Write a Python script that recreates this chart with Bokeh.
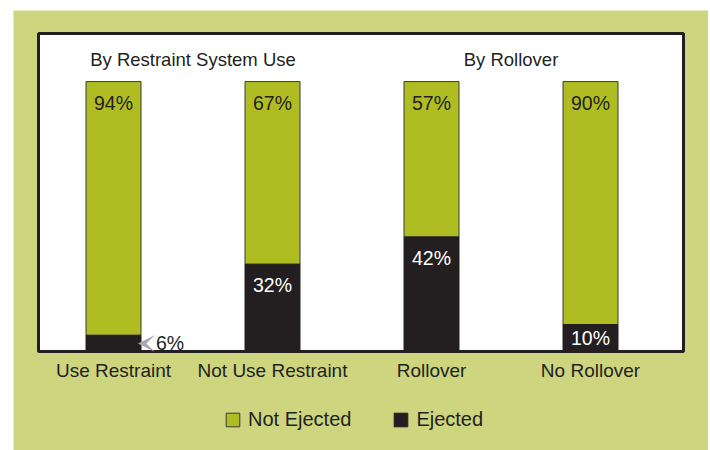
from bokeh.plotting import figure
from bokeh.models import (ColumnDataSource, Range1d, Legend, LegendItem,
                          Arrow, VeeHead)
from bokeh.core.properties import value
from bokeh.embed import file_html
from bokeh.resources import INLINE

# ---------------- data ----------------
categories = ["Use Restraint", "Not Use Restraint", "Rollover", "No Rollover"]
not_ejected = [94, 67, 57, 90]
ejected = [6, 32, 42, 10]
group_titles = ["By Restraint System Use", "By Rollover"]
group_members = [[0, 1], [2, 3]]
series_names = ["Not Ejected", "Ejected"]

# ---------------- style / geometry (pixels) ----------------
FONT = "Liberation Sans"
BG = "#cdd57f"
GREEN = "#b0bd22"
DARK = "#231f20"
GREY = "#a7a9ac"

W, H = 695, 440                 # whole green panel
BOX_L, BOX_T = 25, 23           # white chart box inside the panel
BOX_W, BOX_H = 645, 318
Y_MAX = 117.8                   # percent at top of the white box
PPU = BOX_H / Y_MAX             # px per percent
X_PPU = 159.0                   # px per category step
X0 = -75.0 / X_PPU              # x value at the box's left edge
BAR_W = 55.0 / X_PPU

x_start = X0 - BOX_L / X_PPU
x_end = x_start + W / X_PPU
y_end = Y_MAX + BOX_T / PPU
y_start = y_end - H / PPU

xs = list(range(len(categories)))
totals = [e + n for e, n in zip(ejected, not_ejected)]
ej_top = [e / t * 100 for e, t in zip(ejected, totals)]
ne_top = [(e + n) / t * 100 for e, n, t in zip(ejected, not_ejected, totals)]

src = ColumnDataSource(dict(x=xs, ej_top=ej_top, ne_top=ne_top,
                            zero=[0] * len(xs)))

p = figure(width=W, height=H, output_backend="svg", toolbar_location=None,
           x_range=Range1d(x_start, x_end), y_range=Range1d(y_start, y_end),
           x_axis_location=None, y_axis_location=None,
           min_border=0, min_border_left=0, min_border_right=0,
           min_border_top=0, min_border_bottom=0)
p.margin = (10, 0, 0, 13)
p.background_fill_color = BG
p.border_fill_color = BG
p.outline_line_color = None
p.grid.visible = False

# white chart box with dark frame
p.quad(left=[X0], right=[X0 + BOX_W / X_PPU], bottom=[0], top=[Y_MAX],
       fill_color="white", line_color=DARK, line_width=3)

r_ne = p.vbar(x="x", bottom="ej_top", top="ne_top", width=BAR_W, source=src,
              fill_color=GREEN, line_color="#3b3b3b", line_width=1)
r_ej = p.vbar(x="x", bottom="zero", top="ej_top", width=BAR_W, source=src,
              fill_color=DARK, line_color=DARK, line_width=1)

# category labels under the box
p.text(x=xs, y=[-18.5 / PPU] * len(xs), text=categories, text_font=value(FONT),
       text_font_size="19px", text_color=DARK, text_align="center",
       text_baseline="middle")

# group titles
gx = [sum(m) / len(m) for m in group_members]
p.text(x=gx, y=[108.3] * len(gx), text=group_titles, text_font=value(FONT),
       text_font_size="18.5px", text_color=DARK, text_align="center",
       text_baseline="middle")

# not ejected labels (top of bar)
OFF = 21 / PPU
p.text(x=xs, y=[t - OFF for t in ne_top], text=[f"{v}%" for v in not_ejected],
       text_font=value(FONT), text_font_size="19.5px", text_color=DARK,
       text_align="center", text_baseline="middle")

# ejected labels
in_x, in_y, in_t, out_x, out_y, out_t = [], [], [], [], [], []
for i, (e, t) in enumerate(zip(ejected, ej_top)):
    if t * PPU >= 20:
        in_x.append(i); in_y.append(max(t - OFF, t / 2)); in_t.append(f"{e}%")
    else:
        out_x.append(i + BAR_W / 2); out_y.append(t / 2); out_t.append(f"{e}%")
p.text(x=in_x, y=in_y, text=in_t, text_font=value(FONT), text_font_size="19.5px",
       text_color="white", text_align="center", text_baseline="middle")
p.text(x=out_x, y=out_y, text=out_t, text_font=value(FONT),
       text_font_size="19.5px", text_color=DARK, text_align="left",
       text_baseline="middle", x_offset=15)
for ox, oy in zip(out_x, out_y):
    p.add_layout(Arrow(end=VeeHead(size=17, fill_color=GREY, line_color=None),
                       x_start=ox + 16 / X_PPU, x_end=ox - 3 / X_PPU,
                       y_start=oy, y_end=oy, line_alpha=0))

legend = Legend(items=[LegendItem(label=series_names[0], renderers=[r_ne]),
                       LegendItem(label=series_names[1], renderers=[r_ej])],
                orientation="horizontal", location=(211, 19),
                glyph_width=17, glyph_height=17, label_standoff=7, spacing=41,
                padding=0, margin=0, border_line_color=None,
                background_fill_alpha=0, label_text_font=FONT,
                label_text_font_size="20px", label_text_color=DARK)
p.add_layout(legend, "center")

open("out.html", "w").write(file_html(p, INLINE))
